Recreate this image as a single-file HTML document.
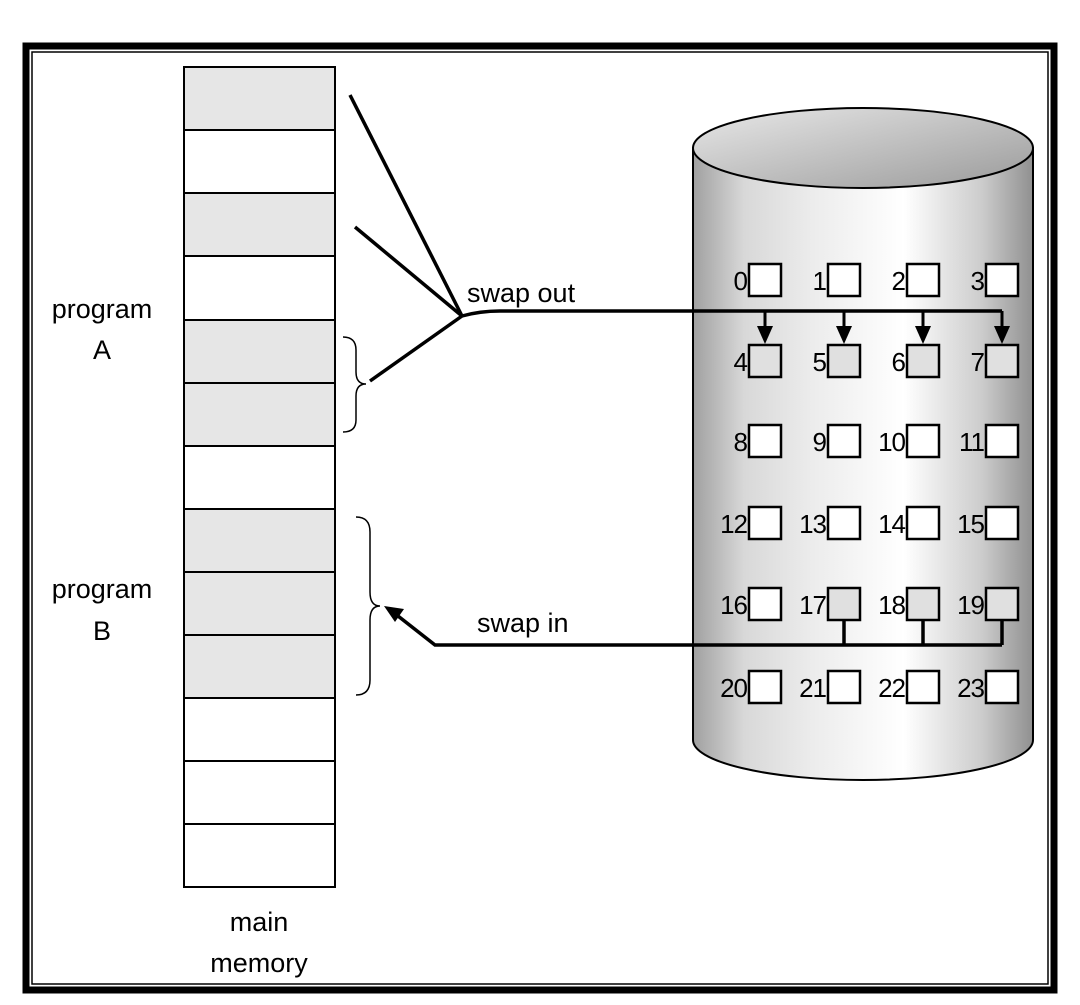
<!DOCTYPE html>
<html><head><style>body{margin:0;background:#fff}</style></head><body>
<svg width="1080" height="1000" viewBox="0 0 1080 1000" xmlns="http://www.w3.org/2000/svg" font-family="Liberation Sans, sans-serif" font-size="27">
<defs>
<linearGradient id="cyl" x1="0" x2="1" y1="0" y2="0">
<stop offset="0" stop-color="#a0a0a0"/><stop offset="0.15" stop-color="#d8d8d8"/><stop offset="0.35" stop-color="#ececec"/><stop offset="0.62" stop-color="#ffffff"/><stop offset="0.85" stop-color="#cccccc"/><stop offset="1" stop-color="#909090"/>
</linearGradient>
<linearGradient id="top" x1="0" x2="1" y1="0" y2="1">
<stop offset="0" stop-color="#e8e8e8"/><stop offset="1" stop-color="#9a9a9a"/>
</linearGradient>
</defs>
<rect x="26" y="46" width="1028" height="944" fill="none" stroke="#000" stroke-width="7"/>
<rect x="32" y="52" width="1016" height="932" fill="none" stroke="#000" stroke-width="1.5"/>
<g stroke="#000" stroke-width="2">
<rect x="184" y="67" width="151" height="63" fill="#e6e6e6"/>
<rect x="184" y="130" width="151" height="63" fill="#fff"/>
<rect x="184" y="193" width="151" height="63" fill="#e6e6e6"/>
<rect x="184" y="256" width="151" height="64" fill="#fff"/>
<rect x="184" y="320" width="151" height="63" fill="#e6e6e6"/>
<rect x="184" y="383" width="151" height="63" fill="#e6e6e6"/>
<rect x="184" y="446" width="151" height="63" fill="#fff"/>
<rect x="184" y="509" width="151" height="63" fill="#e6e6e6"/>
<rect x="184" y="572" width="151" height="63" fill="#e6e6e6"/>
<rect x="184" y="635" width="151" height="63" fill="#e6e6e6"/>
<rect x="184" y="698" width="151" height="63" fill="#fff"/>
<rect x="184" y="761" width="151" height="63" fill="#fff"/>
<rect x="184" y="824" width="151" height="63" fill="#fff"/>
</g>
<text x="102" y="318" text-anchor="middle">program</text><text x="102" y="359" text-anchor="middle">A</text>
<text x="102" y="598" text-anchor="middle">program</text><text x="102" y="640" text-anchor="middle">B</text>
<text x="259" y="931" text-anchor="middle">main</text><text x="259" y="972" text-anchor="middle">memory</text>
<path d="M343,337 Q356,337 356,350 L356,372 Q356,384 366,384 Q356,384 356,396 L356,420 Q356,432 343,432" fill="none" stroke="#000" stroke-width="1.5"/>
<path d="M356,517 Q370,517 370,532 L370,592 Q370,606 380,606 Q370,606 370,620 L370,680 Q370,695 356,695" fill="none" stroke="#000" stroke-width="1.5"/>
<path d="M693,148 L693,740 A170,40 0 0 0 1033,740 L1033,148 Z" fill="url(#cyl)" stroke="#000" stroke-width="2"/>
<ellipse cx="863" cy="148" rx="170" ry="40" fill="url(#top)" stroke="#000" stroke-width="2"/>
<g stroke="#000" stroke-width="2.5">
<g fill="#fff">
<rect x="749" y="264" width="32" height="32"/><rect x="828" y="264" width="32" height="32"/><rect x="907" y="264" width="32" height="32"/><rect x="986" y="264" width="32" height="32"/>
<rect x="749" y="425" width="32" height="32"/><rect x="828" y="425" width="32" height="32"/><rect x="907" y="425" width="32" height="32"/><rect x="986" y="425" width="32" height="32"/>
<rect x="749" y="507" width="32" height="32"/><rect x="828" y="507" width="32" height="32"/><rect x="907" y="507" width="32" height="32"/><rect x="986" y="507" width="32" height="32"/>
<rect x="749" y="588" width="32" height="32"/>
<rect x="749" y="671" width="32" height="32"/><rect x="828" y="671" width="32" height="32"/><rect x="907" y="671" width="32" height="32"/><rect x="986" y="671" width="32" height="32"/>
</g>
<g fill="#e0e0e0">
<rect x="749" y="345" width="32" height="32"/><rect x="828" y="345" width="32" height="32"/><rect x="907" y="345" width="32" height="32"/><rect x="986" y="345" width="32" height="32"/>
<rect x="828" y="588" width="32" height="32"/><rect x="907" y="588" width="32" height="32"/><rect x="986" y="588" width="32" height="32"/>
</g>
</g>
<g font-size="26" text-anchor="end" letter-spacing="-1">
<text x="747" y="290">0</text><text x="826" y="290">1</text><text x="905" y="290">2</text><text x="984" y="290">3</text>
<text x="747" y="371">4</text><text x="826" y="371">5</text><text x="905" y="371">6</text><text x="984" y="371">7</text>
<text x="747" y="451">8</text><text x="826" y="451">9</text><text x="905" y="451">10</text><text x="984" y="451">11</text>
<text x="747" y="533">12</text><text x="826" y="533">13</text><text x="905" y="533">14</text><text x="984" y="533">15</text>
<text x="747" y="614">16</text><text x="826" y="614">17</text><text x="905" y="614">18</text><text x="984" y="614">19</text>
<text x="747" y="697">20</text><text x="826" y="697">21</text><text x="905" y="697">22</text><text x="984" y="697">23</text>
</g>
<g stroke="#000" stroke-width="3.5" fill="none">
<line x1="350" y1="95" x2="462" y2="316"/>
<line x1="355" y1="227" x2="462" y2="316"/>
<line x1="370" y1="381" x2="462" y2="316"/>
<path d="M462,316 Q480,311 500,311 L1002,311"/>
</g>
<g stroke="#000" stroke-width="3">
<line x1="765" y1="311" x2="765" y2="330"/><line x1="844" y1="311" x2="844" y2="330"/><line x1="923" y1="311" x2="923" y2="330"/><line x1="1002" y1="311" x2="1002" y2="330"/>
</g>
<g fill="#000">
<path d="M757,326 L773,326 L765,344 Z"/><path d="M836,326 L852,326 L844,344 Z"/><path d="M915,326 L931,326 L923,344 Z"/><path d="M994,326 L1010,326 L1002,344 Z"/>
</g>
<text x="467" y="302">swap out</text>
<g stroke="#000" stroke-width="3.5" fill="none">
<line x1="844" y1="620" x2="844" y2="645"/><line x1="923" y1="620" x2="923" y2="645"/><line x1="1002" y1="620" x2="1002" y2="645"/>
<path d="M1002,645 L435,645 L398,616"/>
</g>
<path d="M384,606 L404,609 L395,622 Z" fill="#000"/>
<text x="477" y="632">swap in</text>
</svg>
</body></html>
